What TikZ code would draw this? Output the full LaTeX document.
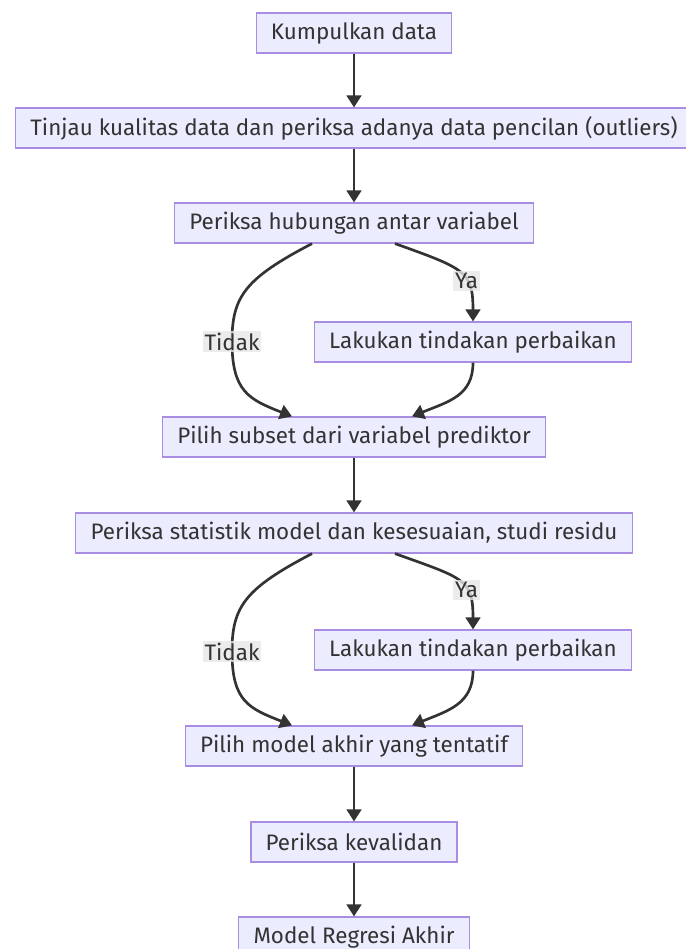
\documentclass[tikz,border=0pt]{standalone}
\usepackage{fontspec}
\setmainfont{Fira Sans}
\usepackage{tikz}
\usetikzlibrary{arrows.meta,calc,positioning}
\definecolor{boxfill}{HTML}{ECECFF}
\definecolor{boxline}{HTML}{9370DB}
\definecolor{ink}{HTML}{333333}
\definecolor{lblbg}{HTML}{E8E8E8}
\tikzset{
  proc/.style={draw=boxline!80!white, fill=boxfill, line width=0.9pt, minimum height=30pt, inner xsep=11pt, text=ink, font=\fontsize{16.8}{20}\selectfont},
  flow/.style={draw=ink, line width=2pt, -{Triangle[length=9pt,width=11pt]}},
  lbl/.style={fill=lblbg, fill opacity=0.8, text opacity=1, text=ink, inner sep=1.5pt, font=\fontsize{16.8}{20}\selectfont}
}

\begin{document}
\begin{tikzpicture}[x=0.75pt, y=-0.75pt]
    \useasboundingbox (0,0) rectangle (685,949);
    \fill[white] (0,0) rectangle (685,949);

    \node[proc] (kumpul) at (354,33) {Kumpulkan data};
    \node[proc] (tinjau) at (354,128) {Tinjau kualitas data dan periksa adanya data pencilan (outliers)};
    \node[proc] (hubungan) at (354,223) {Periksa hubungan antar variabel};
    \node[proc] (perbaikA) at (473,342) {Lakukan tindakan perbaikan};
    \node[proc] (subset) at (354,437) {Pilih subset dari variabel prediktor};
    \node[proc] (statistik) at (354,533) {Periksa statistik model dan kesesuaian, studi residu};
    \node[proc] (perbaikB) at (473,650) {Lakukan tindakan perbaikan};
    \node[proc] (tentatif) at (354,746) {Pilih model akhir yang tentatif};
    \node[proc] (valid) at (354,842) {Periksa kevalidan};
    \node[proc] (akhir) at (354,937) {Model Regresi Akhir};

    \draw[flow] (kumpul) -- (tinjau);
    \draw[flow] (tinjau) -- (hubungan);
    \draw[flow] ($(hubungan.south)+(-42,0)$) .. controls +(-67,35) and +(0,-45) .. ($(hubungan.south)+(-122,98)$) node[lbl] {Tidak}
        .. controls +(0,50) and +(-43,-17) .. ($(subset.north)+(-62,0)$);
    \draw[flow] ($(hubungan.south)+(41,0)$) .. controls +(70,25) and +(0,-50) .. (perbaikA.north) node[lbl, pos=0.62] {Ya};
    \draw[flow] (perbaikA.south) .. controls +(0,33) and +(37,-15) .. ($(subset.north)+(58,0)$);
    \draw[flow] (subset) -- (statistik);
    \draw[flow] ($(statistik.south)+(-42,0)$) .. controls +(-67,35) and +(0,-45) .. ($(statistik.south)+(-122,98)$) node[lbl] {Tidak}
        .. controls +(0,50) and +(-43,-17) .. ($(tentatif.north)+(-62,0)$);
    \draw[flow] ($(statistik.south)+(41,0)$) .. controls +(70,25) and +(0,-50) .. (perbaikB.north) node[lbl, pos=0.62] {Ya};
    \draw[flow] (perbaikB.south) .. controls +(0,33) and +(37,-15) .. ($(tentatif.north)+(58,0)$);
    \draw[flow] (tentatif) -- (valid);
    \draw[flow] (valid) -- (akhir);
\end{tikzpicture}
\end{document}
